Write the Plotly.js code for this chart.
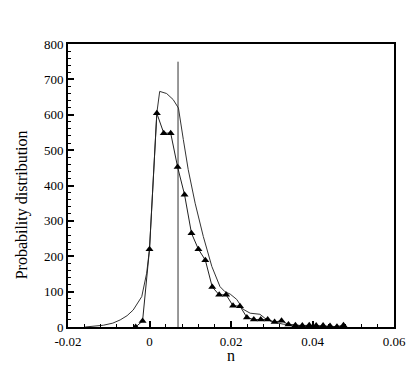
<!DOCTYPE html>
<html>
<head>
<meta charset="utf-8">
<script src="https://cdn.plot.ly/plotly-3.0.1.min.js"></script>
<style>html,body{margin:0;padding:0;background:#fff;}#chart{width:415px;height:369px;}</style>
</head>
<body>
<div id="chart"></div>
<script>
// Series with triangle markers
const triX = [-0.0034, -0.0017, 0.0000, 0.0018, 0.0035, 0.0052, 0.0069, 0.0086, 0.0103, 0.0120, 0.0137, 0.0154, 0.0171, 0.0188, 0.0205, 0.0222, 0.0239, 0.0256, 0.0273, 0.0290, 0.0307, 0.0324, 0.0341, 0.0358, 0.0375, 0.0392, 0.0409, 0.0426, 0.0443, 0.0460, 0.0476];
const triY = [0, 17, 220, 604, 548, 548, 452, 374, 265, 220, 189, 113, 91, 91, 60, 59, 27, 21, 21, 21, 14, 18, 7, 5, 4, 5, 4, 4, 3, 1, 5];
// Thin line series (no markers)
const lineX = [-0.0158, -0.0135, -0.0113, -0.0090, -0.0072, -0.0055, -0.0040, -0.0019, -0.0007, 0.0000, 0.0009, 0.0018, 0.0025, 0.0042, 0.0058, 0.0071, 0.0083, 0.0095, 0.0112, 0.0132, 0.0153, 0.0173, 0.0185, 0.0198, 0.0214, 0.0230, 0.0247, 0.0271, 0.0283, 0.0300, 0.0328, 0.0350, 0.0380, 0.0410, 0.0440, 0.0470];
const lineY = [0, 2, 5, 11, 20, 32, 48, 86, 152, 220, 416, 605, 666, 660, 643, 619, 530, 445, 350, 256, 171, 114, 100, 93, 78, 50, 39, 36, 25, 15, 8, 5, 3, 2, 1, 0];
// Vertical reference line
const refX = [0.007, 0.007];
const refY = [0, 750];
const xTicks = [-0.02, 0, 0.02, 0.04, 0.06];
const xTickText = ['-0.02', '0', '0.02', '0.04', '0.06'];
const yTicks = [0, 100, 200, 300, 400, 500, 600, 700, 800];
const xTitle = 'n';
const yTitle = 'Probability distribution';

const traces = [
  {x: lineX, y: lineY, type: 'scatter', mode: 'lines', line: {color: '#333', width: 1}, hoverinfo: 'none'},
  {x: refX, y: refY, type: 'scatter', mode: 'lines', line: {color: '#333', width: 1}, hoverinfo: 'none'},
  {x: triX, y: triY, type: 'scatter', mode: 'lines+markers', line: {color: '#222', width: 1},
   marker: {symbol: 'triangle-up', size: 7, color: '#000'}, hoverinfo: 'none'}
];

const fam = 'Liberation Serif, Times New Roman, serif';
const font = {family: fam, size: 13, color: '#000'};
const layout = {
  width: 415, height: 369,
  margin: {l: 68, r: 21, t: 44, b: 42},
  paper_bgcolor: '#fff', plot_bgcolor: '#fff',
  showlegend: false,
  font: font,
  xaxis: {
    range: [-0.02, 0.06], tickvals: xTicks, ticktext: xTickText,
    ticks: 'inside', ticklen: 6, tickwidth: 2, tickcolor: '#000',
    minor: {dtick: 0.004, ticks: 'inside', ticklen: 3, tickwidth: 1, tickcolor: '#000'},
    showline: true, linecolor: '#000', linewidth: 2, mirror: true,
    showgrid: false, zeroline: false, ticklabelstandoff: 1,
    tickfont: font
  },
  yaxis: {
    range: [0, 800], tickvals: yTicks,
    ticks: 'inside', ticklen: 6, tickwidth: 2, tickcolor: '#000',
    minor: {dtick: 20, ticks: 'inside', ticklen: 3, tickwidth: 1, tickcolor: '#000'},
    showline: true, linecolor: '#000', linewidth: 2, mirror: true,
    showgrid: false, zeroline: false,
    tickfont: font
  },
  annotations: [
    {text: xTitle, xref: 'paper', yref: 'paper', x: 0.5, y: -0.1, xanchor: 'center', yanchor: 'middle',
     showarrow: false, font: {family: fam, size: 16, color: '#000'}},
    {text: yTitle, xref: 'paper', yref: 'paper', x: -0.141, y: 0.43, xanchor: 'center', yanchor: 'middle',
     textangle: -90, showarrow: false, font: {family: fam, size: 16, color: '#000'}}
  ]
};
Plotly.newPlot('chart', traces, layout, {staticPlot: true, displayModeBar: false});
</script>
</body>
</html>
